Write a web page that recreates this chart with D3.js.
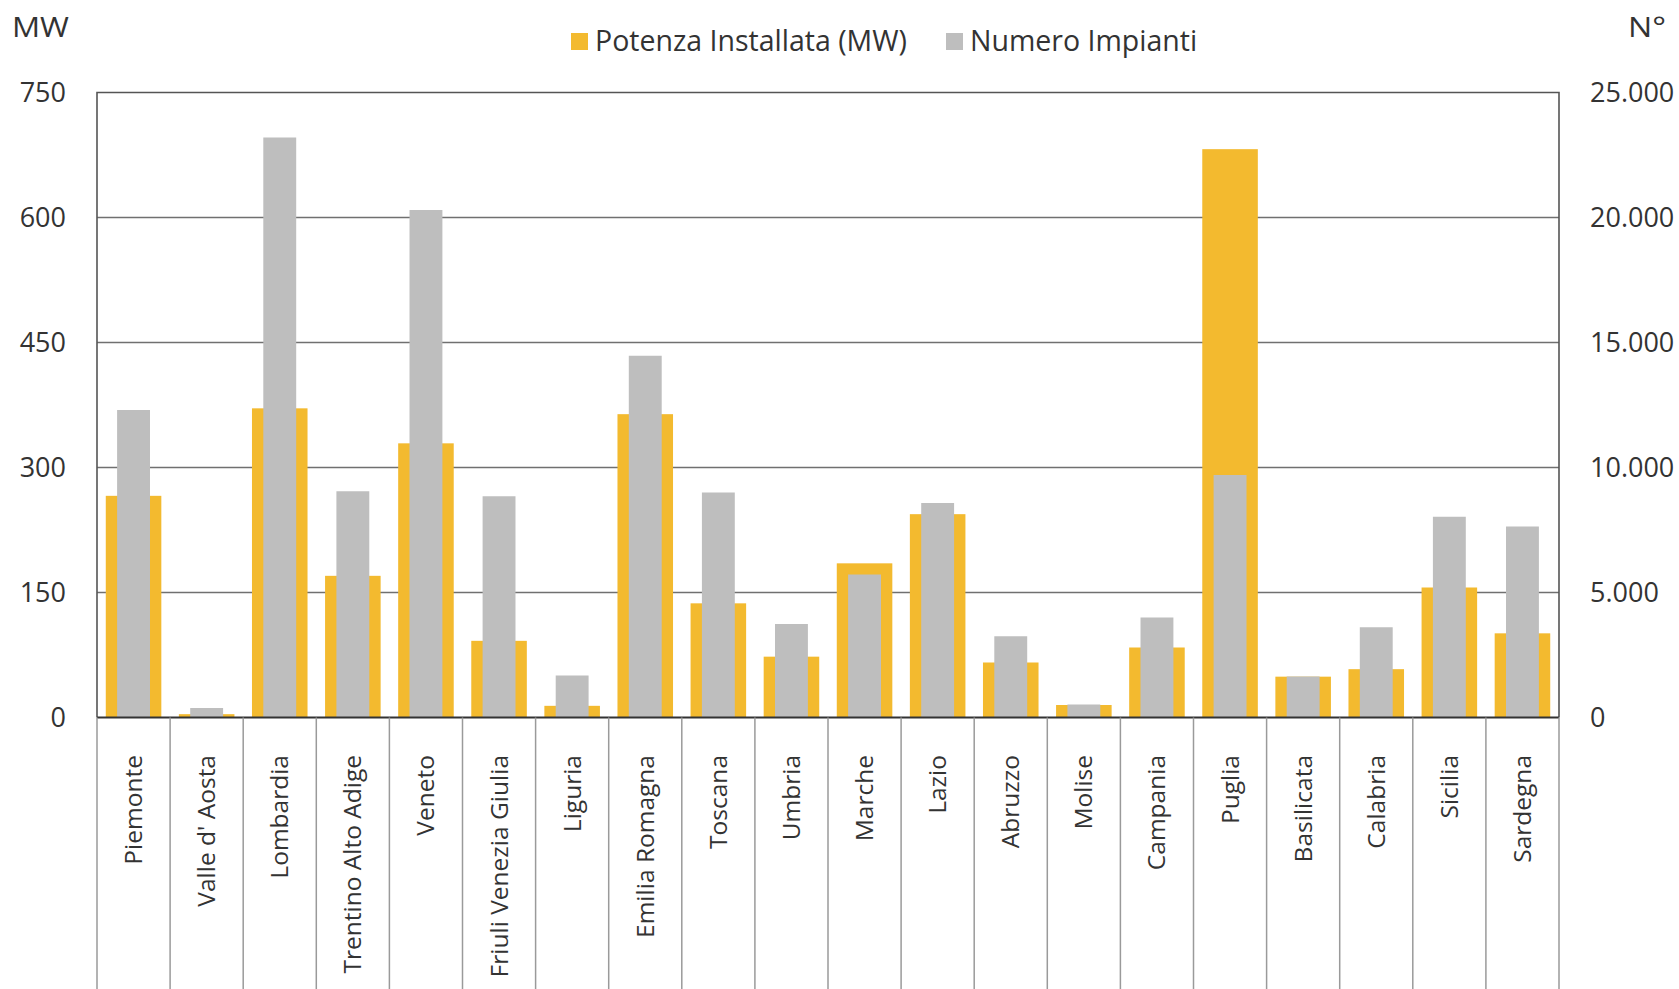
<!DOCTYPE html>
<html>
<head>
<meta charset="utf-8">
<script src="https://cdn.jsdelivr.net/npm/d3@7"></script>
<style>
  html, body { margin: 0; padding: 0; background: #fff; }
  svg { display: block; font-family: "Open Sans", "Noto Sans", sans-serif; }
</style>
</head>
<body>
<svg id="chart" width="1679" height="989"></svg>
<script>
const categories = ["Piemonte","Valle d' Aosta","Lombardia","Trentino Alto Adige","Veneto","Friuli Venezia Giulia","Liguria","Emilia Romagna","Toscana","Umbria","Marche","Lazio","Abruzzo","Molise","Campania","Puglia","Basilicata","Calabria","Sicilia","Sardegna"];
const potenzaMW = [266, 4, 371, 170, 329, 92, 14, 364, 137, 73, 185, 244, 66, 15, 84, 682, 49, 58, 156, 101];
const numeroImpianti = [12300, 380, 23200, 9050, 20300, 8850, 1680, 14470, 9000, 3740, 5720, 8580, 3250, 520, 4000, 9700, 1640, 3610, 8030, 7640];
const mwTicks = [0, 150, 300, 450, 600, 750];
const nTicks = [0, 5000, 10000, 15000, 20000, 25000];
const seriesNames = ["Potenza Installata (MW)", "Numero Impianti"];
const colors = ["#F3BA2F", "#BEBEBE"];

const svg = d3.select("#chart");
const L = 97, R = 1559, T = 92.5, B = 717.5;
const textColor = "#333";

const x = d3.scaleBand().domain(categories).range([L, R]).padding(0);
const xMW = d3.scaleBand().domain(categories).range([L, R]).paddingInner(0.24).paddingOuter(0.12);
const xN = d3.scaleBand().domain(categories).range([L, R]).paddingInner(0.55).paddingOuter(0.275);
const yMW = d3.scaleLinear().domain([0, 750]).range([B, T]);
const yN = d3.scaleLinear().domain([0, 25000]).range([B, T]);

const itFmt = d3.formatLocale({decimal: ",", thousands: ".", grouping: [3], currency: ["", "€"]}).format(",d");

// gridlines
svg.append("g").selectAll("line").data(mwTicks.filter(d => d > 0 && d < 750)).join("line")
  .attr("x1", L).attr("x2", R).attr("y1", d => yMW(d)).attr("y2", d => yMW(d))
  .attr("stroke", "#707070").attr("stroke-width", 1.4);

// bars
svg.append("g").selectAll("rect").data(categories).join("rect")
  .attr("x", d => xMW(d)).attr("width", xMW.bandwidth())
  .attr("y", (d, i) => yMW(potenzaMW[i])).attr("height", (d, i) => B - yMW(potenzaMW[i]))
  .attr("fill", colors[0]);
svg.append("g").selectAll("rect").data(categories).join("rect")
  .attr("x", d => xN(d)).attr("width", xN.bandwidth())
  .attr("y", (d, i) => yN(numeroImpianti[i])).attr("height", (d, i) => B - yN(numeroImpianti[i]))
  .attr("fill", colors[1]);

// frame
svg.append("path")
  .attr("d", `M${L},${B}V${T}H${R}V${B}`)
  .attr("fill", "none").attr("stroke", "#555").attr("stroke-width", 1.6);
svg.append("line").attr("x1", L).attr("x2", R).attr("y1", B).attr("y2", B)
  .attr("stroke", "#333").attr("stroke-width", 1.8);

// category dividers
const divs = categories.map(c => x(c)).concat([R]);
svg.append("g").selectAll("line").data(divs).join("line")
  .attr("x1", d => d).attr("x2", d => d).attr("y1", B).attr("y2", 989)
  .attr("stroke", "#9a9a9a").attr("stroke-width", 1.5);

// category labels
svg.append("g").selectAll("text").data(categories).join("text")
  .attr("transform", d => `translate(${x(d) + x.bandwidth() / 2 + 8.5},755) rotate(-90)`)
  .attr("text-anchor", "end")
  .attr("font-size", 24.5).attr("fill", textColor)
  .text(d => d);

// left axis
const axL = svg.append("g").attr("transform", `translate(${L},0)`)
  .call(d3.axisLeft(yMW).tickValues(mwTicks).tickSize(0).tickPadding(31));
axL.select(".domain").remove();
axL.selectAll("text").attr("font-size", 27).attr("fill", textColor).attr("font-family", "Open Sans");

// right axis
const axR = svg.append("g").attr("transform", `translate(${R},0)`)
  .call(d3.axisRight(yN).tickValues(nTicks).tickSize(0).tickPadding(31).tickFormat(itFmt));
axR.select(".domain").remove();
axR.selectAll("text").attr("font-size", 27).attr("fill", textColor).attr("font-family", "Open Sans");

// axis unit titles
svg.append("text").attr("x", 12).attr("y", 37).attr("font-size", 27).attr("fill", textColor)
  .attr("textLength", 57).attr("lengthAdjust", "spacingAndGlyphs").text("MW");
svg.append("text").attr("x", 1628).attr("y", 37).attr("font-size", 27).attr("fill", textColor)
  .attr("textLength", 38).attr("lengthAdjust", "spacingAndGlyphs").text("N°");

// legend
const legend = svg.append("g");
const legX = [571, 946];
seriesNames.forEach((n, i) => {
  legend.append("rect").attr("x", legX[i]).attr("y", 33).attr("width", 17).attr("height", 17).attr("fill", colors[i]);
  legend.append("text").attr("x", legX[i] + 24).attr("y", 51).attr("font-size", 28.5).attr("fill", textColor).text(n);
});
</script>
</body>
</html>
